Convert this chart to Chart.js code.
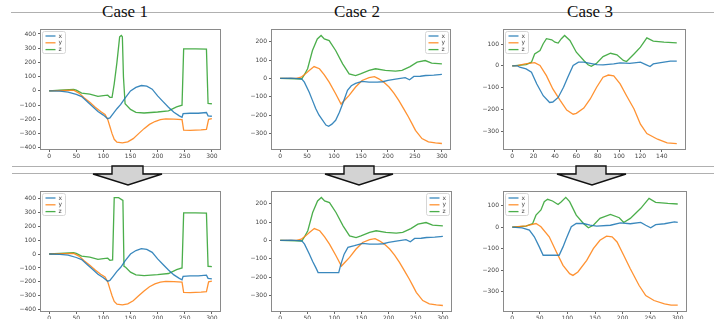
<!DOCTYPE html>
<html>
<head>
<meta charset="utf-8">
<script src="https://cdn.jsdelivr.net/npm/chart.js@4.4.1/dist/chart.umd.min.js"></script>
<style>
  html, body { margin:0; padding:0; background:#fff; }
  #wrap { position:relative; width:714px; height:319px; overflow:hidden; background:#fff; }
  canvas { position:absolute; }
  .hline { position:absolute; height:1px; background:#b0b0b0; }
  .title { position:absolute; top:3px; font-family:"Liberation Serif","Times New Roman",serif; font-size:17px; line-height:17px; color:#111; white-space:nowrap; transform:translateX(-50%); }
  svg { position:absolute; left:0; top:0; }
</style>
</head>
<body>
<div id="wrap">
  <div class="hline" style="left:11px; top:12px; width:703px;"></div>
  <div class="title" style="left:125px;">Case 1</div>
  <div class="title" style="left:357px;">Case 2</div>
  <div class="title" style="left:590px;">Case 3</div>
  <div class="hline" style="left:12px; top:166px; width:702px;"></div>
  <div class="hline" style="left:12px; top:173px; width:702px;"></div>
  <canvas id="c1t"></canvas><canvas id="c2t"></canvas><canvas id="c3t"></canvas>
  <canvas id="c1b"></canvas><canvas id="c2b"></canvas><canvas id="c3b"></canvas>
  <svg width="714" height="319" style="z-index:5">
    <polygon points="112,166 143,166 143,174 162,174 128,185 93,174 112,174" fill="#d3d3d3" stroke="#111" stroke-width="1.4" stroke-linejoin="miter"/>
    <polygon points="344,166 374,166 374,174 393,174 359,185 325,174 344,174" fill="#d3d3d3" stroke="#111" stroke-width="1.4"/>
    <polygon points="576,166 606,166 606,174 626,174 592,185 557,174 576,174" fill="#d3d3d3" stroke="#111" stroke-width="1.4"/>
  </svg>
</div>
<script>
// ---------- DATA (time, value) ----------
const seriesNames = ["x", "y", "z"];

// Case 1 (top)
const c1_x = [[0,0],[20,-2],[35,-8],[50,-25],[60,-40],[70,-75],[80,-110],[90,-145],[100,-170],[108,-195],[112,-190],[118,-160],[125,-125],[132,-95],[140,-50],[150,0],[160,25],[170,38],[180,33],[190,12],[200,-35],[210,-75],[220,-115],[230,-150],[240,-175],[245,-185],[247,-160],[260,-157],[275,-157],[290,-152],[293,-175],[300,-178]];
const c1_y = [[0,0],[30,3],[45,5],[55,-15],[65,-50],[75,-80],[85,-115],[95,-145],[103,-165],[108,-200],[112,-250],[116,-300],[120,-340],[125,-360],[135,-365],[145,-358],[155,-335],[165,-300],[175,-265],[185,-235],[195,-215],[205,-202],[215,-197],[230,-198],[245,-202],[248,-275],[260,-277],[280,-273],[290,-270],[294,-200],[300,-195]];
const c1_z = [[0,0],[20,5],[45,10],[50,5],[60,-15],[75,-22],[90,-38],[100,-33],[108,-30],[112,-45],[116,-45],[120,50],[125,200],[130,380],[133,390],[135,380],[137,100],[140,-90],[150,-130],[160,-150],[175,-155],[200,-148],[220,-140],[235,-112],[245,-100],[248,295],[270,295],[290,293],[293,-88],[300,-90]];
// Case 1 (bottom)
const c1b_z = [[0,0],[20,5],[45,10],[50,5],[60,-15],[75,-22],[90,-38],[100,-33],[108,-30],[112,-45],[117,-42],[120,404],[128,404],[136,385],[138,-88],[141,-95],[150,-130],[160,-150],[175,-155],[200,-148],[220,-140],[235,-112],[245,-100],[248,295],[270,295],[290,293],[293,-88],[300,-90]];

// Case 2 (top)
const c2_x = [[0,0],[20,2],[40,-2],[45,-20],[54,-75],[60,-120],[66,-165],[72,-200],[79,-229],[85,-255],[90,-262],[96,-250],[103,-229],[110,-185],[116,-138],[125,-65],[132,-40],[140,-27],[152,-16],[165,-20],[180,-20],[190,-18],[200,-10],[214,-4],[232,4],[240,-7],[248,11],[260,12],[270,16],[285,18],[300,22]];
const c2_y = [[0,0],[30,0],[39,7],[47,25],[54,44],[63,65],[73,53],[82,20],[91,-20],[103,-84],[113,-140],[120,-118],[128,-93],[140,-47],[152,-11],[165,5],[175,10],[183,-2],[192,-20],[202,-47],[211,-80],[220,-120],[229,-165],[238,-211],[245,-250],[251,-284],[263,-329],[275,-347],[288,-353],[300,-356]];
const c2_z = [[0,0],[30,-2],[40,-3],[45,20],[51,53],[60,153],[69,216],[76,235],[82,216],[91,207],[103,153],[116,80],[128,25],[140,16],[149,25],[165,44],[177,53],[195,44],[214,40],[226,44],[241,65],[254,89],[269,98],[281,84],[300,80]];
// Case 2 (bottom)
const c2b_x = [[0,0],[20,2],[40,-2],[45,-20],[54,-75],[60,-115],[66,-150],[70,-176],[108,-176],[112,-130],[118,-75],[125,-38],[137,-29],[152,-16],[165,-20],[180,-20],[190,-18],[200,-10],[214,-4],[232,4],[240,-7],[248,11],[260,12],[270,16],[285,18],[300,22]];

// Case 3 (top)
const c3_x = [[0,0],[5,0],[7,-6],[13,-14],[18,-29],[23,-83],[29,-137],[35,-168],[38,-166],[43,-145],[48,-98],[52,-52],[57,2],[62,17],[67,17],[73,12],[79,6],[85,5],[95,9],[101,14],[110,12],[120,17],[125,6],[129,-3],[132,9],[139,15],[148,22],[154,22]];
const c3_y = [[0,0],[5,1],[12,9],[21,15],[26,2],[32,-45],[38,-106],[45,-160],[51,-203],[57,-222],[60,-218],[67,-194],[73,-152],[79,-98],[85,-52],[90,-42],[95,-46],[101,-83],[107,-137],[114,-198],[120,-268],[126,-311],[136,-337],[145,-354],[154,-357]];
const c3_z = [[0,0],[13,6],[18,17],[21,55],[26,71],[29,102],[32,125],[37,120],[40,109],[43,105],[46,125],[49,140],[54,117],[60,63],[67,25],[71,5],[74,-2],[79,12],[85,43],[92,58],[98,51],[104,25],[107,20],[114,55],[120,86],[126,129],[132,114],[142,109],[154,106]];
// Case 3 (bottom)
const c3b_x = [[0,0],[18,-3],[31,-14],[40,-45],[49,-92],[56,-131],[85,-131],[92,-92],[98,-53],[107,2],[116,17],[129,17],[141,9],[153,5],[178,9],[196,20],[214,16],[233,22],[242,9],[251,-3],[260,12],[276,16],[294,25],[300,22]];
const c3b_y = [[0,0],[25,6],[43,17],[52,2],[67,-45],[80,-116],[92,-178],[104,-217],[110,-225],[119,-209],[135,-155],[147,-100],[159,-61],[171,-42],[181,-45],[190,-69],[202,-131],[214,-194],[230,-272],[242,-319],[257,-342],[276,-358],[288,-364],[300,-364]];
const c3b_z = [[0,0],[25,5],[37,17],[43,56],[52,80],[58,119],[64,130],[73,122],[83,106],[89,119],[97,139],[104,119],[116,56],[129,17],[138,-3],[147,9],[159,41],[178,59],[194,44],[202,22],[214,41],[233,88],[248,134],[260,116],[282,111],[300,108]];

// Tick labels
const ticks300 = [0,50,100,150,200,250,300];
const ticks140 = [0,20,40,60,80,100,120,140];
const yTicksC1 = [-400,-300,-200,-100,0,100,200,300,400];
const yTicksC2 = [-300,-200,-100,0,100,200];
const yTicksC3 = [-300,-200,-100,0,100];

// ---------- STYLE ----------
const colors = ["rgba(31,119,180,0.88)", "rgba(255,127,14,0.85)", "rgba(44,160,44,0.85)"];
const TICK_FONT = { family: "DejaVu Sans", size: 6 };
const PADL = 32, PADT = 8, PADR = 8, XH = 14;

const framePlugin = {
  id: "mplFrame",
  afterDraw(chart) {
    const ctx = chart.ctx, a = chart.chartArea;
    ctx.save();
    ctx.strokeStyle = "#8a8a8a";
    ctx.lineWidth = 1;
    ctx.strokeRect(Math.round(a.left) - 0.5, Math.round(a.top) - 0.5, Math.round(a.right - a.left) + 1, Math.round(a.bottom - a.top) + 1);
    // legend
    const pos = chart.options.plugins.mplLegend.pos;
    const w = 23, h = 22;
    const x0 = pos === "right" ? a.right - 1.5 - w : a.left + 1.5;
    const y0 = a.top + 1.5;
    ctx.fillStyle = "rgba(255,255,255,0.85)";
    ctx.strokeStyle = "#d6d6d6";
    ctx.beginPath();
    if (ctx.roundRect) ctx.roundRect(x0, y0, w, h, 2); else ctx.rect(x0, y0, w, h);
    ctx.fill(); ctx.stroke();
    chart.data.datasets.forEach((d, i) => {
      const yy = y0 + 4.5 + i * 6.8;
      ctx.strokeStyle = d.borderColor;
      ctx.lineWidth = 1.3;
      ctx.beginPath(); ctx.moveTo(x0 + 3, yy); ctx.lineTo(x0 + 13, yy); ctx.stroke();
      ctx.fillStyle = "#444";
      ctx.font = "6px 'DejaVu Sans'";
      ctx.textBaseline = "middle";
      ctx.textAlign = "left";
      ctx.fillText(d.label, x0 + 16, yy);
    });
    ctx.restore();
  }
};

function fmt(v) { return v < 0 ? "\u2212" + Math.abs(v) : String(v); }

function makeChart(id, frame, xr, yr, xTicks, yTicks, series, legendPos) {
  const cv = document.getElementById(id);
  const W = frame.r - frame.l + PADL + PADR;
  const H = frame.b - frame.t + PADT + XH;
  cv.width = W; cv.height = H;
  cv.style.left = (frame.l - PADL) + "px";
  cv.style.top = (frame.t - PADT) + "px";
  cv.style.width = W + "px"; cv.style.height = H + "px";
  new Chart(cv, {
    type: "line",
    data: {
      datasets: series.map((s, i) => ({
        label: seriesNames[i],
        data: s.map(p => ({ x: p[0], y: p[1] })),
        borderColor: colors[i],
        borderWidth: 1.3,
        pointRadius: 0,
        tension: 0,
        fill: false
      }))
    },
    options: {
      responsive: false,
      animation: false,
      devicePixelRatio: 1,
      layout: { padding: { left: 0, top: PADT, right: PADR, bottom: 0 } },
      plugins: { legend: { display: false }, tooltip: { enabled: false }, mplLegend: { pos: legendPos } },
      scales: {
        x: {
          type: "linear", min: xr[0], max: xr[1],
          afterBuildTicks: s => { s.ticks = xTicks.map(v => ({ value: v })); },
          afterFit: s => { s.height = XH; },
          ticks: { font: TICK_FONT, color: "#444", padding: 1, maxRotation: 0, autoSkip: false, callback: v => fmt(v) },
          grid: { display: true, drawOnChartArea: false, drawTicks: true, tickLength: 3, color: "#666" },
          border: { display: false }
        },
        y: {
          type: "linear", min: yr[0], max: yr[1],
          afterBuildTicks: s => { s.ticks = yTicks.map(v => ({ value: v })); },
          afterFit: s => { s.width = PADL; },
          ticks: { font: TICK_FONT, color: "#444", padding: 2, autoSkip: false, callback: v => fmt(v) },
          grid: { display: true, drawOnChartArea: false, drawTicks: true, tickLength: 3, color: "#666" },
          border: { display: false }
        }
      }
    },
    plugins: [framePlugin]
  });
}

makeChart("c1t", { l: 41, r: 220, t: 30, b: 149 }, [-15, 315], [-408, 428], ticks300, yTicksC1, [c1_x, c1_y, c1_z], "left");
makeChart("c2t", { l: 272, r: 450, t: 30, b: 149 }, [-15, 315], [-386, 265], ticks300, yTicksC2, [c2_x, c2_y, c2_z], "right");
makeChart("c3t", { l: 504, r: 685, t: 30, b: 149 }, [-7.7, 161.7], [-382, 165], ticks140, yTicksC3, [c3_x, c3_y, c3_z], "left");
makeChart("c1b", { l: 41, r: 220, t: 192, b: 311 }, [-15, 315], [-409, 445], ticks300, yTicksC1, [c1_x, c1_y, c1b_z], "left");
makeChart("c2b", { l: 272, r: 451, t: 192, b: 311 }, [-15, 315], [-386, 265], ticks300, yTicksC2, [c2b_x, c2_y, c2_z], "right");
makeChart("c3b", { l: 504, r: 686, t: 192, b: 311 }, [-15, 315], [-391, 164], ticks300, yTicksC3, [c3b_x, c3b_y, c3b_z], "left");
</script>
</body>
</html>
